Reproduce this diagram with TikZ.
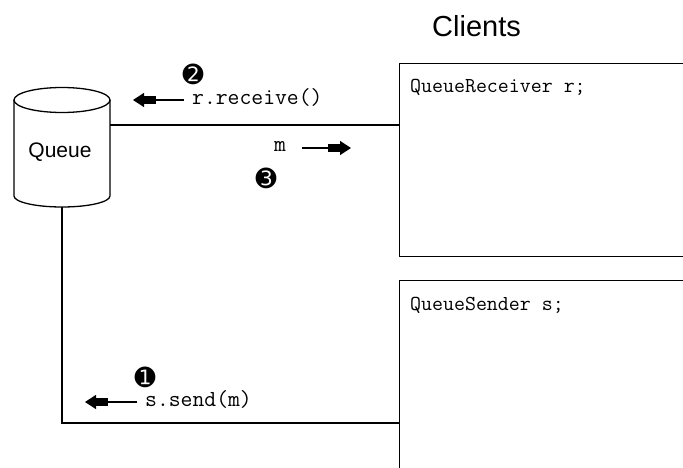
\documentclass[tikz,border=0pt]{standalone}
\usepackage{fontspec}
\setmainfont{Liberation Sans}
\newfontfamily\dingfont{DejaVu Sans}
\usetikzlibrary{arrows.meta}
\begin{document}
\begin{tikzpicture}[x=1pt,y=-1pt,
  line/.style={line width=1.3pt,black},
  client/.style={draw,line width=1.3pt,rectangle,anchor=north west,minimum width=300pt,inner sep=0pt},
  code/.style={font=\ttfamily\fontsize{21.3}{23}\selectfont,anchor=base west,inner sep=0pt},
  label/.style={font=\ttfamily\fontsize{23}{25}\selectfont,anchor=base west,inner sep=0pt},
  stepno/.style={font=\dingfont\fontsize{25}{27}\selectfont,inner sep=0pt},
  msgarrow/.style={line width=1.3pt,-{Rectangle[length=12pt,width=8pt,sep=0pt]Triangle[length=11pt,width=14pt]}}
]
\useasboundingbox (0,0) rectangle (683,468);
\clip (0,0) rectangle (683,468);

% client boxes (running off the right and bottom edges)
\node[client,minimum height=193pt] (recv) at (399,63) {};
\node[client,minimum height=200pt] (send) at (399,280) {};
\node[code] (recvtxt) at (410,93) {QueueReceiver r;};
\node[code] (sendtxt) at (410,310) {QueueSender s;};
\node[font=\fontsize{29}{32}\selectfont,anchor=base west,inner sep=0pt] (clients) at (432,37) {Clients};

% queue cylinder
\coordinate (qtl) at (14,100);
\coordinate (qtr) at (110,100);
\coordinate (qbl) at (14,196);
\coordinate (qbr) at (110,196);
\draw[line] (62,100) ellipse [x radius=48, y radius=12.5];
\draw[line] (qtl) -- (qbl) arc[start angle=180,end angle=0,x radius=48,y radius=11] -- (qtr);
\node[font=\fontsize{21}{23}\selectfont,inner sep=0pt] (queue) at (60,152) {Queue};
\coordinate (qright) at (110,125);
\coordinate (qbottom) at (62,207);

% connectors
\draw[line] (qright) -- (qright -| recv.west);
\coordinate (corner) at (62,423);
\draw[line] (qbottom) -- (corner) -- (corner -| send.west);

% step 1: send
\node[stepno] (one) at (145,377) {➊};
\node[label] (sendlbl) at (145,406) {s.send(m)};
\coordinate (a1s) at (137,402);
\coordinate (a1e) at (85,402);
\draw[msgarrow] (a1s) -- (a1e);

% step 2: receive
\node[stepno] (two) at (193,74) {➋};
\node[label] (recvlbl) at (192,105) {r.receive()};
\coordinate (a2s) at (184,100);
\coordinate (a2e) at (133,100);
\draw[msgarrow] (a2s) -- (a2e);

% step 3: message delivered
\node[label] (msg) at (274,152) {m};
\coordinate (a3s) at (302,148);
\coordinate (a3e) at (351,148);
\draw[msgarrow] (a3s) -- (a3e);
\node[stepno] (three) at (266,178) {➌};
\end{tikzpicture}
\end{document}
